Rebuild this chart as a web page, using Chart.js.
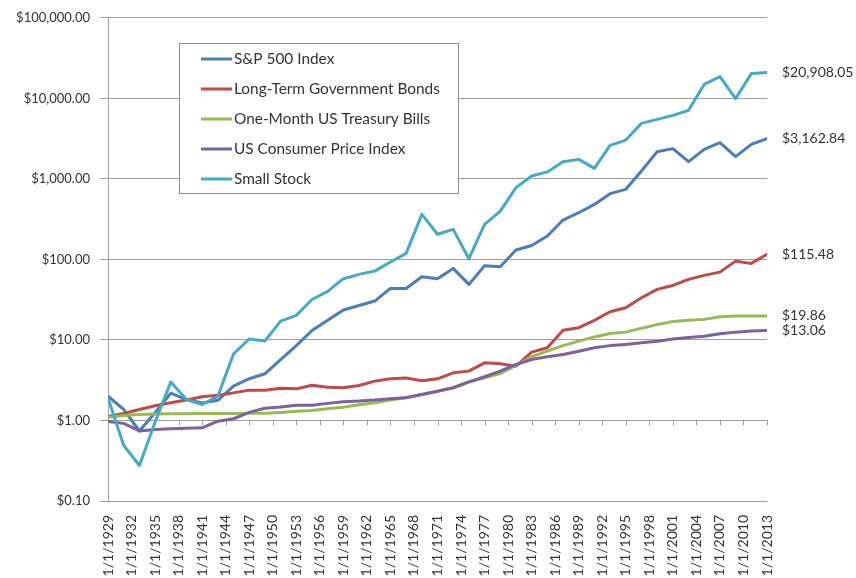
<!DOCTYPE html>
<html><head><meta charset="utf-8">
<script src="https://cdn.jsdelivr.net/npm/chart.js@4.4.0/dist/chart.umd.min.js"></script>
<style>html,body{margin:0;padding:0;background:#fff;}#wrap{width:856px;height:578px;}</style>
</head><body><div id="wrap"><canvas id="c" width="856" height="578"></canvas></div>
<script>
const years = [1929,1931,1933,1935,1937,1939,1941,1943,1945,1947,1949,1951,1953,1955,1957,1959,1961,1963,1965,1967,1969,1971,1973,1975,1977,1979,1981,1983,1985,1987,1989,1991,1993,1995,1997,1999,2001,2003,2005,2007,2009,2011,2013];
const xTickYears = [1929,1932,1935,1938,1941,1944,1947,1950,1953,1956,1959,1962,1965,1968,1971,1974,1977,1980,1983,1986,1989,1992,1995,1998,2001,2004,2007,2010,2013];
const yTickValues = [0.1,1,10,100,1000,10000,100000];

const sp500 = [2.0,1.37,0.74,1.25,2.18,1.82,1.65,1.78,2.67,3.3,3.8,5.7,8.5,13.1,17.5,23.5,26.8,30.4,43.6,43.6,61,57.6,77.3,48.9,83.5,81.2,131,149,195,308,380,482,655,741,1250,2177,2373,1636,2324,2810,1885,2683,3162.84];
const ltGovBonds = [1.12,1.22,1.37,1.52,1.66,1.80,1.97,2.05,2.2,2.38,2.38,2.52,2.47,2.74,2.58,2.55,2.72,3.08,3.29,3.36,3.11,3.29,3.91,4.1,5.2,5.06,4.72,7.05,8.0,13.2,14.2,17.5,22.4,25.1,33.4,42.4,47.5,56.5,63.3,69.5,95.2,89.2,115.48];
const tBills = [1.1,1.15,1.19,1.2,1.21,1.21,1.22,1.22,1.22,1.23,1.23,1.26,1.30,1.33,1.40,1.46,1.57,1.66,1.79,1.93,2.10,2.31,2.55,2.99,3.39,3.83,4.83,6.2,7.25,8.5,9.65,10.9,12.0,12.5,14.0,15.5,16.9,17.6,18.0,19.4,19.8,19.86,19.86];
const cpi = [0.97,0.92,0.74,0.77,0.79,0.80,0.81,0.98,1.05,1.26,1.42,1.47,1.54,1.55,1.63,1.71,1.74,1.79,1.86,1.91,2.10,2.31,2.55,3.02,3.49,4.10,4.96,5.7,6.2,6.6,7.25,8.0,8.5,8.8,9.2,9.65,10.3,10.7,11.1,11.9,12.5,12.9,13.06];
const smallStock = [1.9,0.49,0.276,0.95,3.0,1.82,1.58,2.0,6.7,10.3,9.7,17.1,20.2,31.8,40,57.6,65.2,71.6,92.7,119,362,205,236,102,272,398,778,1084,1220,1636,1746,1349,2608,3034,4888,5483,6150,7096,14900,18600,9910,20270,20908.05];

const seriesNames = ['S&P 500 Index','Long-Term Government Bonds','One-Month US Treasury Bills','US Consumer Price Index','Small Stock'];
const seriesValues = [sp500, ltGovBonds, tBills, cpi, smallStock];
const seriesColors = ['#4A7EBB','#BE4B48','#98B954','#7D60A0','#46AAC5'];

const FONT = 'Lato, "Open Sans", sans-serif';
const TEXT = '#333333';
const GRID = '#a0a0a0';

function money(v){ return '$' + v.toLocaleString('en-US',{minimumFractionDigits:2, maximumFractionDigits:2}); }

const extras = {
  id:'extras',
  beforeDatasetsDraw(chart){
    const c = chart.ctx, xs = chart.scales.x, ys = chart.scales.y;
    const y1 = ys.getPixelForValue(1);
    c.save(); c.strokeStyle = GRID; c.lineWidth = 1;
    xTickYears.forEach(v=>{
      const px = Math.round(xs.getPixelForValue(v)) + 0.5;
      c.beginPath(); c.moveTo(px, y1); c.lineTo(px, y1 + 5); c.stroke();
    });
    c.restore();
  },
  afterDraw(chart){
    const c = chart.ctx, ys = chart.scales.y, area = chart.chartArea;
    c.save();
    // end labels
    c.font = '14px ' + FONT; c.fillStyle = TEXT; c.textBaseline = 'middle'; c.textAlign = 'left';
    seriesValues.forEach(vals=>{
      const v = vals[vals.length-1];
      c.fillText(money(v), area.right + 15, ys.getPixelForValue(v));
    });
    // legend
    const bx = 179.5, by = 43.5, bw = 279, bh = 150;
    c.fillStyle = '#fff'; c.fillRect(bx, by, bw, bh);
    c.strokeStyle = '#8c8c8c'; c.lineWidth = 1; c.strokeRect(bx, by, bw, bh);
    c.font = '15.4px ' + FONT; c.textAlign = 'left'; c.textBaseline = 'middle';
    seriesNames.forEach((n,i)=>{
      const yy = 59 + i*30;
      c.strokeStyle = seriesColors[i]; c.lineWidth = 3;
      c.beginPath(); c.moveTo(201, yy); c.lineTo(232, yy); c.stroke();
      c.fillStyle = TEXT; c.fillText(n, 234, yy);
    });
    c.restore();
  }
};

new Chart(document.getElementById('c'), {
  type:'line',
  data:{ datasets: seriesNames.map((n,i)=>({
    label:n,
    data: years.map((yr,j)=>({x:yr, y:seriesValues[i][j]})),
    borderColor: seriesColors[i], backgroundColor: seriesColors[i],
    borderWidth:3, pointRadius:0, tension:0, fill:false,
    borderJoinStyle:'round', borderCapStyle:'round', order: 5-i
  }))},
  options:{
    responsive:false, animation:false, devicePixelRatio:1,
    layout:{padding:{top:17,right:89,left:0,bottom:0}},
    plugins:{legend:{display:false}, tooltip:{enabled:false}},
    scales:{
      x:{ type:'linear', min:1929, max:2013,
        afterBuildTicks:s=>{ s.ticks = xTickYears.map(v=>({value:v})); },
        ticks:{ autoSkip:false, maxRotation:90, minRotation:90, padding:6,
          callback:v=>'1/1/'+v, font:{family:FONT,size:14}, color:TEXT },
        grid:{display:false}, border:{display:false},
        afterFit:s=>{ s.height = 77; } },
      y:{ type:'logarithmic', min:0.1, max:100000,
        afterBuildTicks:s=>{ s.ticks = yTickValues.map(v=>({value:v})); },
        ticks:{ padding:10, callback:v=>money(v), font:{family:FONT,size:13}, color:TEXT },
        grid:{ color:GRID, tickLength:8, lineWidth:1 },
        border:{ display:true, color:GRID },
        afterFit:s=>{ s.width = 108; } }
    }
  },
  plugins:[extras]
});
</script></body></html>
